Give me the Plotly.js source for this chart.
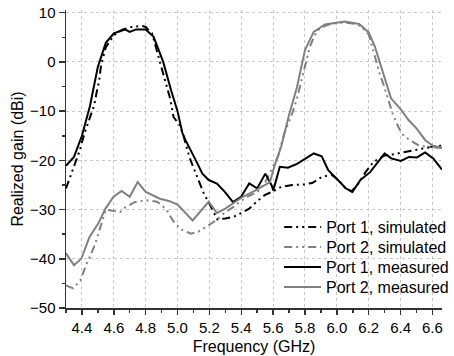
<!DOCTYPE html>
<html>
<head>
<meta charset="utf-8">
<script src="https://cdn.plot.ly/plotly-3.0.1.min.js"></script>
<style>html,body{margin:0;padding:0;background:#fff;}#chart{width:454px;height:356px;}</style>
</head>
<body>
<div id="chart"></div>
<script>
// Port 1, simulated
const p1SimF = [4.30,4.335,4.386,4.416,4.436,4.477,4.497,4.507,4.52,4.55,4.60,4.65,4.70,4.73,4.78,4.80,4.84,4.872,4.89,4.913,4.936,4.953,4.975,5.014,5.034,5.074,5.115,5.166,5.20,5.25,5.30,5.35,5.40,5.45,5.50,5.55,5.60,5.65,5.72,5.79,5.845,5.905,5.966,6.01,6.05,6.09,6.13,6.18,6.23,6.30,6.35,6.42,6.47,6.54,6.60,6.66];
const p1SimG = [-25.7,-22.7,-18,-14.5,-12.5,-8.8,-5.4,-4.1,-0.7,3.0,5.4,6.5,7.0,7.2,7.3,7.1,5.8,2.0,0.3,-2.4,-5.3,-7.4,-11.2,-12.9,-14.6,-19.3,-22.7,-26.8,-28.8,-32.0,-31.8,-31.5,-30.7,-29.8,-28.3,-27.0,-26.3,-25.4,-25.0,-24.9,-24.6,-23.4,-22.9,-24.0,-25.5,-26.3,-25.0,-22.4,-20.3,-19.0,-18.8,-18.4,-18.1,-17.6,-17.2,-17.0];

// Port 2, simulated
const p2SimF = [4.30,4.345,4.39,4.43,4.48,4.52,4.55,4.60,4.64,4.67,4.73,4.80,4.87,4.90,4.94,4.97,5.02,5.085,5.13,5.19,5.25,5.30,5.35,5.40,5.45,5.50,5.55,5.58,5.63,5.67,5.72,5.75,5.78,5.80,5.83,5.855,5.875,5.90,5.95,6.00,6.05,6.10,6.15,6.20,6.23,6.25,6.27,6.29,6.31,6.33,6.35,6.37,6.39,6.42,6.45,6.51,6.57,6.66];
const p2SimG = [-45.4,-46.0,-44.4,-41.0,-37.3,-33.0,-30.0,-30.3,-30.5,-29.6,-28.5,-28.1,-28.4,-29.0,-30.5,-32.2,-34.0,-34.9,-34.5,-33.3,-32.0,-30.5,-29.5,-28.2,-27.2,-26.5,-24.5,-22.5,-19.3,-14.5,-10.5,-7.4,-3.5,-0.5,3.0,5.0,6.2,7.0,7.6,7.9,8.0,7.8,7.3,5.6,2.0,-0.5,-2.5,-4.3,-6.4,-8.8,-10.5,-12.0,-13.5,-15.0,-15.7,-16.9,-17.3,-17.5];

// Port 1, measured
const p1MeasF = [4.30,4.35,4.40,4.45,4.50,4.55,4.60,4.64,4.67,4.70,4.74,4.80,4.85,4.87,4.91,4.96,5.00,5.03,5.05,5.115,5.156,5.196,5.247,5.297,5.348,5.399,5.45,5.50,5.551,5.591,5.601,5.642,5.693,5.75,5.784,5.855,5.905,5.946,6.007,6.057,6.098,6.148,6.209,6.30,6.341,6.402,6.453,6.503,6.554,6.605,6.66];
const p1MeasG = [-21.1,-19.3,-15.0,-9.0,-1.0,3.9,5.8,6.3,6.6,6.1,6.6,6.6,5.1,3.4,0.0,-5.8,-10.0,-14.4,-15.9,-20.0,-22.7,-24.0,-24.7,-26.4,-28.5,-27.4,-24.7,-25.7,-22.7,-25.1,-26.1,-21.3,-21.5,-20.7,-20.0,-18.6,-19.2,-22.0,-24.0,-25.7,-26.4,-24.0,-22.4,-18.6,-19.6,-20.1,-19.3,-19.4,-18.4,-19.6,-21.9];

// Port 2, measured
const p2MeasF = [4.30,4.35,4.396,4.447,4.503,4.548,4.598,4.649,4.70,4.75,4.80,4.89,4.95,5.00,5.095,5.196,5.247,5.30,5.41,5.49,5.58,5.61,5.65,5.70,5.75,5.80,5.855,5.925,6.05,6.14,6.20,6.24,6.29,6.34,6.40,6.45,6.50,6.555,6.605,6.66];
const p2MeasG = [-38.9,-41.3,-40.0,-35.6,-32.8,-29.8,-27.4,-26.2,-27.4,-24.4,-26.4,-27.8,-28.3,-29.0,-32.2,-28.4,-30.7,-29.8,-27.4,-26.1,-24.4,-21.0,-17.3,-10.8,-5.1,2.4,6.1,7.6,8.2,7.7,6.0,3.0,-2.2,-7.4,-9.6,-11.8,-13.5,-15.9,-17.1,-17.4];

const seriesNames = ['Port 1, simulated','Port 2, simulated','Port 1, measured','Port 2, measured'];
const xTicks = [4.4,4.6,4.8,5.0,5.2,5.4,5.6,5.8,6.0,6.2,6.4,6.6];
const xTickText = ['4.4','4.6','4.8','5.0','5.2','5.4','5.6','5.8','6.0','6.2','6.4','6.6'];
const yTicks = [-50,-40,-30,-20,-10,0,10];

const BLACK = '#000000';
const GRAY = '#808080';
const DDD = '8px,4px,2px,4px,2px,4px';

const traces = [
  {x:p1SimF, y:p1SimG, name:seriesNames[0], mode:'lines', line:{color:BLACK, width:2, dash:DDD}, legend:'legend'},
  {x:p2SimF, y:p2SimG, name:seriesNames[1], mode:'lines', line:{color:GRAY, width:2, dash:DDD}, legend:'legend2'},
  {x:p1MeasF, y:p1MeasG, name:seriesNames[2], mode:'lines', line:{color:BLACK, width:2}, legend:'legend3'},
  {x:p2MeasF, y:p2MeasG, name:seriesNames[3], mode:'lines', line:{color:GRAY, width:2}, legend:'legend4'}
];

function leg(yc){
  return {x:0.567, xanchor:'left', y:yc, yanchor:'middle', bgcolor:'rgba(0,0,0,0)', borderwidth:0,
          font:{size:16, color:'#000'}, itemwidth:37};
}

const layout = {
  width:454, height:356,
  margin:{l:66, r:0, t:10, b:48},
  paper_bgcolor:'#fff', plot_bgcolor:'#fff',
  font:{family:'Liberation Sans, Arial, sans-serif', color:'#000', size:15},
  showlegend:true,
  legend:leg(0.2718), legend2:leg(0.2047), legend3:leg(0.1376), legend4:leg(0.0705),
  shapes:[{type:'rect', xref:'paper', yref:'paper', x0:0.546, x1:1, y0:0.027, y1:0.319,
           fillcolor:'#fff', line:{width:0}, layer:'between'}],
  xaxis:{range:[4.3,6.66], tickvals:xTicks, ticktext:xTickText, ticks:'outside', ticklen:5, tickwidth:1.5, tickcolor:'#333',
         showline:true, linecolor:'#333', linewidth:1.5, showgrid:true, gridcolor:'#c8c8c8', griddash:'dot', gridwidth:1,
         zeroline:false, tickfont:{size:15}, ticklabeloverflow:'allow',
         minor:{tickvals:[4.3,4.5,4.7,4.9,5.1,5.3,5.5,5.7,5.9,6.1,6.3,6.5], ticks:'outside', ticklen:3, tickwidth:1.5, tickcolor:'#333', showgrid:false},
         title:{text:'Frequency (GHz)', font:{size:16}, standoff:6}},
  yaxis:{range:[-50,10.55], tickvals:yTicks, ticks:'outside', ticklen:6, tickwidth:1.5, tickcolor:'#333',
         showline:true, linecolor:'#333', linewidth:1.5, showgrid:true, gridcolor:'#c8c8c8', griddash:'dot', gridwidth:1,
         zeroline:false, tickfont:{size:15},
         minor:{tickvals:[-45,-35,-25,-15,-5,5], ticks:'outside', ticklen:3, tickwidth:1.5, tickcolor:'#333', showgrid:false},
         title:{text:'Realized gain (dBi)', font:{size:16}, standoff:2}}
};

Plotly.newPlot('chart', traces, layout, {displayModeBar:false, staticPlot:true});
</script>
</body>
</html>
